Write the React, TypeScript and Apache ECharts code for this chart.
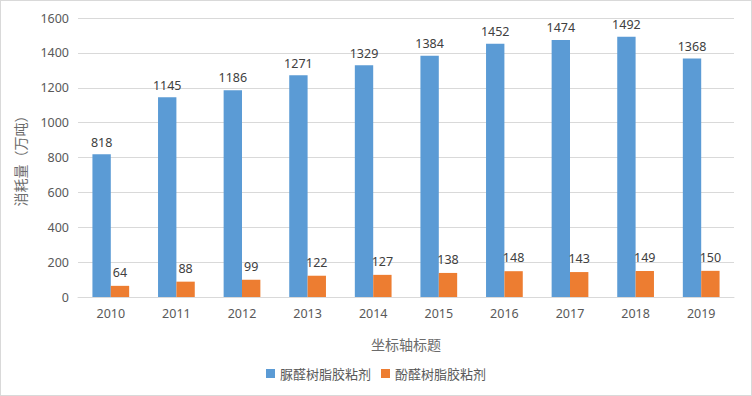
import React, { useEffect, useRef } from "react";
import * as echarts from "echarts";

const categories = ["2010", "2011", "2012", "2013", "2014", "2015", "2016", "2017", "2018", "2019"];
const ureaValues = [818, 1145, 1186, 1271, 1329, 1384, 1452, 1474, 1492, 1368];
const phenolValues = [64, 88, 99, 122, 127, 138, 148, 143, 149, 150];
const seriesNames = ["脲醛树脂胶粘剂", "酚醛树脂胶粘剂"];

export default function App() {
  const ref = useRef<HTMLDivElement>(null);
  useEffect(() => {
    if (!ref.current) return;
    const chart = echarts.init(ref.current, null, { renderer: "svg" });
    const font = '"Noto Sans", "Noto Sans CJK SC", sans-serif';
    chart.setOption({
      animation: false,
      backgroundColor: "#ffffff",
      textStyle: { fontFamily: font },
      grid: { left: 77, right: 17, top: 17, bottom: 98 },
      legend: {
        bottom: 10,
        left: "center",
        icon: "rect",
        itemWidth: 9,
        itemHeight: 9,
        itemGap: 10,
        textStyle: { color: "#595959", fontSize: 13, fontFamily: font },
        data: seriesNames,
      },
      xAxis: {
        type: "category",
        data: categories,
        name: "坐标轴标题",
        nameLocation: "middle",
        nameGap: 40,
        nameTextStyle: { color: "#6b6b6b", fontSize: 14, fontFamily: font },
        axisLine: { lineStyle: { color: "#d9d9d9" } },
        axisTick: { show: false },
        axisLabel: { color: "#595959", fontSize: 12.5, margin: 10, fontFamily: font },
      },
      yAxis: {
        type: "value",
        min: 0,
        max: 1600,
        interval: 200,
        name: "消耗量（万吨）",
        nameLocation: "middle",
        nameRotate: 90,
        nameGap: 51,
        nameTextStyle: { color: "#6b6b6b", fontSize: 14, fontFamily: font },
        axisLine: { show: false },
        axisTick: { show: false },
        axisLabel: {
          color: "#595959",
          fontSize: 12.5,
          margin: 9,
          fontFamily: font,
          formatter: (v: number) => String(v),
        },
        splitLine: { lineStyle: { color: "#d9d9d9" } },
      },
      series: [
        {
          name: seriesNames[0],
          type: "bar",
          data: ureaValues,
          barGap: "0%",
          barCategoryGap: "44%",
          itemStyle: { color: "#5b9bd5" },
          label: { show: true, position: "top", distance: 6, color: "#404040", fontSize: 12.5, fontFamily: font },
        },
        {
          name: seriesNames[1],
          type: "bar",
          data: phenolValues,
          barGap: "0%",
          barCategoryGap: "44%",
          itemStyle: { color: "#ed7d31" },
          label: { show: true, position: "top", distance: 7, color: "#404040", fontSize: 12.5, fontFamily: font },
        },
      ],
    });
    return () => chart.dispose();
  }, []);
  return (
    <div
      style={{
        position: "absolute",
        left: 0,
        top: 0,
        width: 752,
        height: 396,
        boxSizing: "border-box",
        border: "1px solid #d9d9d9",
        background: "#fff",
      }}
    >
      <div ref={ref} style={{ width: 750, height: 394 }} />
    </div>
  );
}
